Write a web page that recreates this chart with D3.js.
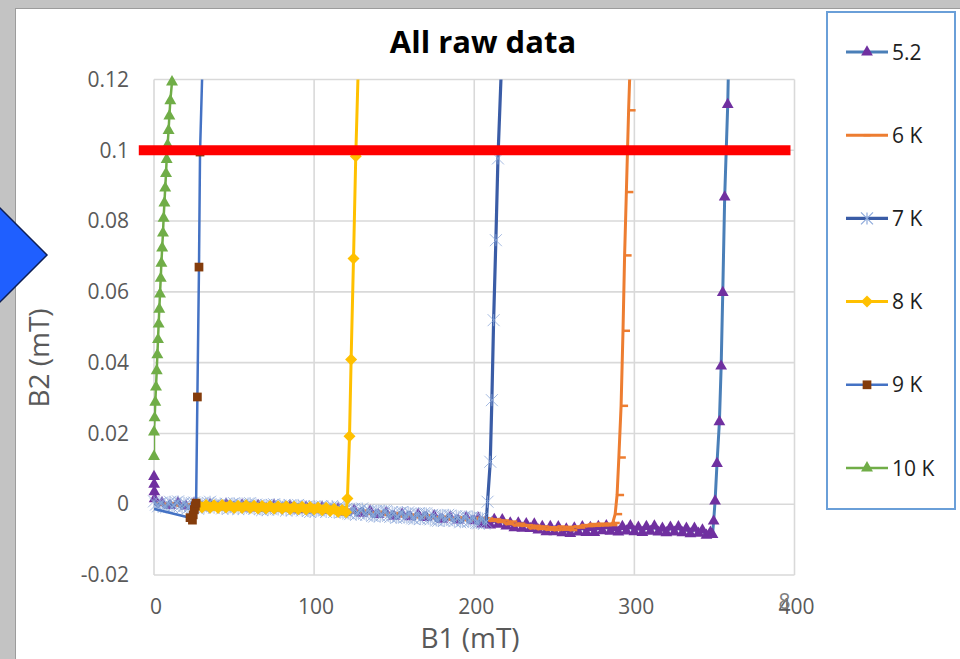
<!DOCTYPE html>
<html><head><meta charset="utf-8">
<script src="https://cdn.jsdelivr.net/npm/d3@7"></script>
<style>
html,body{margin:0;padding:0;background:#c3c3c3;}
svg{display:block;}
text{font-family:"Open Sans",sans-serif;}
</style></head><body>
<svg id="chart" width="960" height="659"></svg>
<script>
// Axis ticks and labels
const xTicks = [0, 100, 200, 300, 400];
const xTickLabels = ["0", "100", "200", "300", "400"];
const yTicks = [-0.02, 0, 0.02, 0.04, 0.06, 0.08, 0.1, 0.12];
const yTickLabels = ["-0.02", "0", "0.02", "0.04", "0.06", "0.08", "0.1", "0.12"];
const seriesNames = ["5.2", "6 K", "7 K", "8 K", "9 K", "10 K"];
const thresholdB2 = 0.1;
const thresholdB1Span = [-9.5, 397.5];

// Measured [B1 (mT), B2 (mT)] pairs for each temperature
const data52 = [[0,0.0078],[0.1,0.0056],[0.2,0.0035],[0.4,0.0015],
[5,0.0004],[10,-0.0004],[15,0.0004],[20,-0.0005],[25,0.0002],[30,-0.0008],[35,-0.0001],[40,-0.0008],[45,0.0000],[50,-0.0008],
[55,-0.0002],[60,-0.0011],[65,-0.0004],[70,-0.0012],[75,-0.0003],[80,-0.0012],[85,-0.0006],[90,-0.0016],[95,-0.0008],[100,-0.0016],
[105,-0.0009],[110,-0.0018],[115,-0.0013],[120,-0.0023],[125,-0.0017],[130,-0.0026],[135,-0.0019],[140,-0.0029],[145,-0.0024],[150,-0.0034],
[155,-0.0028],[160,-0.0036],[165,-0.0029],[170,-0.0038],[175,-0.0033],[180,-0.0043],[185,-0.0037],[190,-0.0045],[195,-0.0038],[200,-0.0047],
[202.5,-0.0040],[205,-0.0056],[207.5,-0.0045],[210,-0.0059],[212.5,-0.0043],[215,-0.0057],[217.5,-0.0044],[220,-0.0062],
[222.5,-0.0053],[225,-0.0067],[227.5,-0.0053],[230,-0.0068],[232.5,-0.0055],[235,-0.0069],[237.5,-0.0056],[240,-0.0073],
[242.5,-0.0063],[245,-0.0078],[247.5,-0.0063],[250,-0.0078],[252.5,-0.0064],[255,-0.0081],[257.5,-0.0070],[260,-0.0083],
[262.5,-0.0067],[265,-0.0079],[267.5,-0.0064],[270,-0.0080],[272.5,-0.0066],[275,-0.0080],[277.5,-0.0063],[280,-0.0075],
[282.5,-0.0061],[285,-0.0077],[287.5,-0.0066],[290,-0.0079],[292.5,-0.0063],[295,-0.0076],[297.5,-0.0061],[300,-0.0078],
[302.5,-0.0065],[305,-0.0080],[307.5,-0.0063],[310,-0.0077],[312.5,-0.0062],[315,-0.0079],[317.5,-0.0068],[320,-0.0081],
[322.5,-0.0065],[325,-0.0079],[327.5,-0.0064],[330,-0.0081],[332.5,-0.0068],[335,-0.0084],[337.5,-0.0068],[340,-0.0082],
[342.5,-0.0073],[345,-0.0088],[347.5,-0.0079],
[348.8,-0.0086],[349.5,-0.0048],[350.4,0.0009],[351.6,0.0115],[353.1,0.0233],[354.2,0.039],[355.2,0.0598],[356.4,0.0868],[358.3,0.1129],[359.6,0.142]];

const data6K = [[0,0.0002],[5,-0.0001],[10,0.0003],[15,-0.0004],[20,0.0000],[25,-0.0006],[30,0.0000],[35,-0.0006],[40,-0.0001],[45,-0.0008],
[50,-0.0003],[55,-0.0009],[60,-0.0003],[65,-0.0009],[70,-0.0005],[75,-0.0011],[80,-0.0007],[85,-0.0013],[90,-0.0008],[95,-0.0013],
[100,-0.0009],[105,-0.0017],[110,-0.0011],[115,-0.0020],[120,-0.0015],[125,-0.0022],[130,-0.0018],[135,-0.0027],[140,-0.0021],[145,-0.0030],
[150,-0.0025],[155,-0.0034],[160,-0.0029],[165,-0.0037],[170,-0.0031],[175,-0.0039],[180,-0.0035],[185,-0.0043],[190,-0.0037],[195,-0.0045],[200,-0.0041],
[202.5,-0.0039],[205,-0.0045],[207.5,-0.0040],[210,-0.0047],[212.5,-0.0043],[215,-0.0050],[217.5,-0.0046],[220,-0.0056],[222.5,-0.0049],
[225,-0.0060],[227.5,-0.0055],[230,-0.0061],[232.5,-0.0059],[235,-0.0068],[237.5,-0.0061],[240,-0.0070],[242.5,-0.0063],[245,-0.0072],
[247.5,-0.0065],[250,-0.0073],[252.5,-0.0063],[255,-0.0072],[257.5,-0.0064],[260,-0.0073],[262.5,-0.0063],[265,-0.0066],[267.5,-0.0059],
[270,-0.0062],[272.5,-0.0056],[275,-0.0061],[277.5,-0.0055],[280,-0.0060],[282.5,-0.0055],[285,-0.0059],
[286.5,-0.0053],[288.0,-0.0028],[289.2,0.0026],[290.3,0.0132],[291.7,0.0278],[292.9,0.049],[293.9,0.0703],[295.0,0.0882],[296.4,0.1113],[298.5,0.14]];

const data7K = [[0,0.0008],[1.25,-0.0001],[2.5,-0.0006],[3.75,0.0003],[5,0.0005],[6.25,-0.0007],[7.5,-0.0009],[8.75,0.0002],
[10,0.0007],[11.25,-0.0008],[12.5,-0.0004],[13.75,0.0005],[15,0.0008],[16.25,-0.0005],[17.5,-0.0010],[18.75,0.0004],
[20,0.0000],[21.25,-0.0011],[22.5,-0.0007],[23.75,0.0003],[25,0.0005],[26.25,-0.0009],[27.5,-0.0013],[28.75,0.0001],
[30,0.0002],[31.25,-0.0010],[32.5,-0.0005],[33.75,0.0004],[35,0.0007],[36.25,-0.0006],[37.5,-0.0010],[38.75,0.0001],
[40,-0.0003],[41.25,-0.0001],[42.5,-0.0012],[43.75,-0.0004],[45,0.0002],[46.25,-0.0013],[47.5,-0.0009],[48.75,0.0001],
[50,0.0003],[51.25,-0.0007],[52.5,-0.0014],[53.75,0.0000],[55,-0.0002],[56.25,-0.0012],[57.5,-0.0008],[58.75,0.0002],
[60,0.0003],[61.25,-0.0010],[62.5,-0.0013],[63.75,-0.0001],[65,-0.0004],[66.25,-0.0014],[67.5,-0.0017],[68.75,-0.0003],
[70,-0.0002],[71.25,-0.0016],[72.5,-0.0011],[73.75,-0.0002],[75,0.0000],[76.25,-0.0013],[77.5,-0.0015],[78.75,-0.0004],
[80,-0.0007],[81.25,-0.0002],[82.5,-0.0018],[83.75,-0.0008],[85,-0.0003],[86.25,-0.0017],[87.5,-0.0014],[88.75,-0.0004],
[90,-0.0002],[91.25,-0.0012],[92.5,-0.0018],[93.75,-0.0005],[95,-0.0007],[96.25,-0.0019],[97.5,-0.0022],[98.75,-0.0008],
[100,-0.0006],[101.25,-0.0020],[102.5,-0.0016],[103.75,-0.0007],[105,-0.0006],[106.25,-0.0018],[107.5,-0.0022],[108.75,-0.0009],
[110,-0.0012],[111.25,-0.0005],[112.5,-0.0022],[113.75,-0.0013],[115,-0.0008],[116.25,-0.0024],[117.5,-0.0022],[118.75,-0.0010],
[120,-0.0013],[121.25,-0.0026],[122.5,-0.0028],[123.75,-0.0014],[125,-0.0013],[126.25,-0.0030],[127.5,-0.0025],[128.75,-0.0016],
[130,-0.0012],[131.25,-0.0027],[132.5,-0.0030],[133.75,-0.0017],[135,-0.0020],[136.25,-0.0033],[137.5,-0.0035],[138.75,-0.0019],
[140,-0.0020],[141.25,-0.0034],[142.5,-0.0030],[143.75,-0.0018],[145,-0.0019],[146.25,-0.0033],[147.5,-0.0036],[148.75,-0.0022],
[150,-0.0026],[151.25,-0.0039],[152.5,-0.0036],[153.75,-0.0024],[155,-0.0022],[156.25,-0.0038],[157.5,-0.0036],[158.75,-0.0023],
[160,-0.0026],[161.25,-0.0040],[162.5,-0.0042],[163.75,-0.0027],[165,-0.0027],[166.25,-0.0042],[167.5,-0.0037],[168.75,-0.0025],
[170,-0.0026],[171.25,-0.0041],[172.5,-0.0043],[173.75,-0.0030],[175,-0.0033],[176.25,-0.0046],[177.5,-0.0047],[178.75,-0.0031],
[180,-0.0032],[181.25,-0.0047],[182.5,-0.0043],[183.75,-0.0030],[185,-0.0032],[186.25,-0.0045],[187.5,-0.0048],[188.75,-0.0034],
[190,-0.0038],[191.25,-0.0051],[192.5,-0.0048],[193.75,-0.0035],[195,-0.0034],[196.25,-0.0050],[197.5,-0.0048],[198.75,-0.0036],
[200,-0.0039],[201.25,-0.0053],[202.5,-0.0054],[203.75,-0.0038],[205,-0.0040],[206.25,-0.0055],[207.5,-0.0050],
[208.3,0.0007],[210,0.012],[211,0.0294],[212.1,0.052],[213.5,0.0746],[214.8,0.0977],[217.5,0.13]];

const data8K = [[27.5,0.0000],[30,-0.0009],[32.5,-0.0002],[35,-0.0010],[37.5,-0.0003],[40,-0.0011],[42.5,-0.0002],[45,-0.0009],[47.5,-0.0003],
[50,-0.0011],[52.5,-0.0004],[55,-0.0011],[57.5,-0.0003],[60,-0.0011],[62.5,-0.0004],[65,-0.0012],[67.5,-0.0005],[70,-0.0012],[72.5,-0.0005],
[75,-0.0013],[77.5,-0.0006],[80,-0.0013],[82.5,-0.0006],[85,-0.0014],[87.5,-0.0007],[90,-0.0014],[92.5,-0.0007],[95,-0.0015],[97.5,-0.0008],
[100,-0.0015],[102.5,-0.0009],[105,-0.0017],[107.5,-0.0010],[110,-0.0019],[112.5,-0.0013],[115,-0.0022],[117.5,-0.0016],[120,-0.0023],
[120.8,0.0016],[122.1,0.0192],[123.1,0.0409],[124.6,0.0694],[126.0,0.0983],[128.6,0.14]];

const data9K = [[-1,-0.0012],[22.5,-0.0038],[24,-0.0045],[24.5,-0.0030],[25.2,-0.0015],[25.8,-0.0005],[26.3,0.0003],
[27.1,0.0303],[28.1,0.067],[28.75,0.0995],[32.5,0.16]];

const data10K = [[0,0.0135],[0,0.0204],[0.4,0.0244],[0.8,0.0288],[1.25,0.0331],[1.7,0.0377],[2.1,0.0422],[2.5,0.0465],[2.9,0.0509],
[3.3,0.0551],[3.75,0.0594],[4.2,0.0638],[4.6,0.0681],[5.1,0.0724],[5.6,0.0766],[6.0,0.0808],[6.5,0.0851],[7.0,0.0893],[7.5,0.0934],
[7.9,0.0974],[8.5,0.1015],[9.1,0.1056],[9.6,0.1097],[10.2,0.1140],[11.25,0.1193]];

const seriesData = [data52, data6K, data7K, data8K, data9K, data10K];

// Drawing styles per series (line colour, marker shape and colour)
const styles = [
  {line:"#4a7fb8", lw:3,   marker:"triangle", fill:"#7030a0", size:60, sw:0},
  {line:"#ed7d31", lw:3,   marker:"dash",     fill:"#ed7d31", size:7,  sw:2.5},
  {line:"#3a5ca6", lw:3.2, marker:"asterisk", fill:"#8eaadb", size:6,  sw:0.8},
  {line:"#ffc000", lw:3,   marker:"diamond",  fill:"#ffc000", size:72, sw:0},
  {line:"#4472c4", lw:2.5, marker:"square",   fill:"#843c0c", size:76, sw:0},
  {line:"#70ad47", lw:2.5, marker:"triangle", fill:"#70ad47", size:62, sw:0}
];

const svg = d3.select("#chart");

// Page background and the white chart sheet
svg.append("rect").attr("width",960).attr("height",659).attr("fill","#c3c3c3");
svg.append("rect").attr("x",15.5).attr("y",8.5).attr("width",960).attr("height",660)
  .attr("fill","#ffffff").attr("stroke","#9c9c9c").attr("stroke-width",1);

const x = d3.scaleLinear().domain([0, 400]).range([154, 794.5]);
const y = d3.scaleLinear().domain([-0.02, 0.12]).range([575, 79.5]);

// Gridlines
const grid = svg.append("g");
grid.selectAll("line.h").data(yTicks).join("line")
  .attr("x1", x(0)).attr("x2", x(400)).attr("y1", d=>y(d)).attr("y2", d=>y(d))
  .attr("stroke","#d9d9d9").attr("stroke-width",1.6);
grid.selectAll("line.v").data(xTicks).join("line")
  .attr("x1", d=>x(d)).attr("x2", d=>x(d)).attr("y1", y(0.12)).attr("y2", y(-0.02))
  .attr("stroke","#d9d9d9").attr("stroke-width",1.6);

// Axes (labels only; lines come from the grid)
const xAxis = d3.axisBottom(x).tickValues(xTicks).tickSize(0).tickPadding(24)
  .tickFormat((d,i)=>xTickLabels[i]);
const gx = svg.append("g").attr("transform",`translate(1.5,${y(-0.02)})`).call(xAxis);
gx.select(".domain").remove();
gx.selectAll("text").attr("font-size",21).attr("fill","#595959").attr("font-family","Open Sans");

const yAxis = d3.axisLeft(y).tickValues(yTicks).tickSize(0).tickPadding(25)
  .tickFormat((d,i)=>yTickLabels[i]);
const gy = svg.append("g").attr("transform",`translate(${x(0)},0)`).call(yAxis);
gy.select(".domain").remove();
gy.selectAll("text").attr("font-size",21).attr("fill","#595959").attr("font-family","Open Sans");

// Stray glyph sitting over the last x label
svg.append("text").attr("x", x(400) - 16).attr("y", y(-0.02) + 34)
  .attr("font-size",21).attr("fill","#7f7f7f").text("8");

// Axis titles
svg.append("text").attr("x",470).attr("y",648).attr("text-anchor","middle")
  .attr("font-size",28).attr("fill","#595959").text("B1 (mT)");
svg.append("text").attr("transform","translate(49,358) rotate(-90)").attr("text-anchor","middle")
  .attr("font-size",28).attr("fill","#595959").text("B2 (mT)");

// Chart title
svg.append("text").attr("x",483).attr("y",53).attr("text-anchor","middle")
  .attr("font-size",31).attr("font-weight","bold").attr("fill","#000").text("All raw data");

// Marker drawing helper
function markerPath(type, size) {
  if (type === "triangle") return d3.symbol(d3.symbolTriangle, size)();
  if (type === "square") return d3.symbol(d3.symbolSquare, size)();
  if (type === "diamond") return d3.symbol(d3.symbolSquare, size)();
  if (type === "asterisk") {
    const r = size;
    return `M${-r},${-r}L${r},${r}M${-r},${r}L${r},${-r}M0,${-r}L0,${r}`;
  }
  if (type === "dash") return `M0,0h${size}`;
  return "";
}
function drawMarkers(g, pts, st, legend) {
  const d = markerPath(st.marker, st.size);
  const stroked = st.marker === "asterisk" || st.marker === "dash";
  g.selectAll("path.m").data(pts).join("path").attr("class","m")
    .attr("d", d)
    .attr("transform", p => {
      const px = legend ? p[0] : x(p[0]);
      const py = legend ? p[1] : y(p[1]);
      if (st.marker === "diamond") return `translate(${px},${py}) rotate(45)`;
      if (st.marker === "dash" && legend) return `translate(${px - st.size/2},${py})`;
      return `translate(${px},${py})`;
    })
    .attr("fill", stroked ? "none" : st.fill)
    .attr("stroke", stroked ? st.fill : "none")
    .attr("stroke-width", stroked ? (legend && st.marker === "asterisk" ? 1.2 : st.sw) : 0);
}

// Plot-area clip for the series lines
svg.append("clipPath").attr("id","plotClip").append("rect")
  .attr("x", x(0)).attr("y", y(0.12)).attr("width", x(400)-x(0)).attr("height", y(-0.02)-y(0.12));

const line = d3.line().x(d=>x(d[0])).y(d=>y(d[1]));
const plot = svg.append("g");
seriesData.forEach((data, i) => {
  const st = styles[i];
  const g = plot.append("g");
  g.append("path").datum(data).attr("d", line).attr("fill","none")
    .attr("stroke", st.line).attr("stroke-width", st.lw).attr("stroke-linejoin","round")
    .attr("clip-path","url(#plotClip)");
  const visible = data.filter(p => p[0] >= 0 && p[0] <= 400 && p[1] <= 0.12 && p[1] >= -0.02);
  drawMarkers(g, visible, st, false);
});

// Threshold line
svg.append("line")
  .attr("x1", x(thresholdB1Span[0])).attr("x2", x(thresholdB1Span[1]))
  .attr("y1", y(thresholdB2)).attr("y2", y(thresholdB2))
  .attr("stroke","#ff0000").attr("stroke-width",10);

// Legend
svg.append("rect").attr("x",827).attr("y",12).attr("width",128).attr("height",497)
  .attr("fill","#ffffff").attr("stroke","#6a9fd8").attr("stroke-width",2);
seriesNames.forEach((name, i) => {
  const st = styles[i];
  const ly = 52 + i * 83.2;
  const g = svg.append("g");
  g.append("line").attr("x1",846).attr("x2",888).attr("y1",ly).attr("y2",ly)
    .attr("stroke", st.line).attr("stroke-width", st.lw);
  drawMarkers(g, [[867, ly]], st, true);
  g.append("text").attr("x",892).attr("y",ly).attr("dy","0.36em")
    .attr("font-size",21).attr("fill","#1e1e1e").text(name);
});

// Left-hand arrow shape
svg.append("path").attr("d","M-20,188L47,255L-20,322Z")
  .attr("fill","#1f5fff").attr("stroke","#0d1f55").attr("stroke-width",1.5);
</script>
</body></html>
